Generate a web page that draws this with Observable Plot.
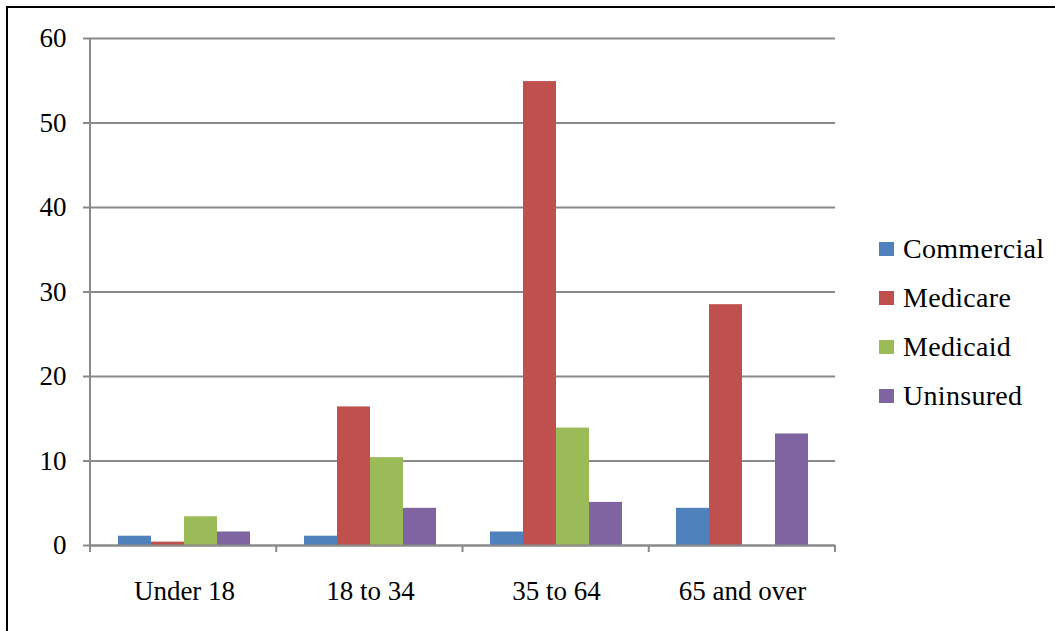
<!DOCTYPE html>
<html>
<head>
<meta charset="utf-8">
<script src="https://cdn.jsdelivr.net/npm/d3@7"></script>
<script src="https://cdn.jsdelivr.net/npm/@observablehq/plot@0.6"></script>
<style>
  html, body { margin: 0; padding: 0; background: #fff; }
  #wrap { position: relative; width: 1055px; height: 631px; overflow: hidden; font-family: "Liberation Serif", "Times New Roman", serif; }
  #border { position: absolute; left: 6px; top: 6px; width: 1200px; height: 800px; border: 2px solid #000; box-sizing: border-box; }
  #legend { position: absolute; left: 879px; top: 224px; }
  .row { display: flex; align-items: center; height: 49px; }
  .sw { width: 15px; height: 14px; margin-right: 9px; }
  .lbl { font-size: 28px; line-height: 1; color: #000; letter-spacing: 0.3px; }
  svg { position: absolute; left: 0; top: 0; }
</style>
</head>
<body>
<div id="wrap"><div id="border"></div><div id="legend"></div></div>
<script>
const categories = ["Under 18", "18 to 34", "35 to 64", "65 and over"];
const series = ["Commercial", "Medicare", "Medicaid", "Uninsured"];
const commercial = [1.1, 1.1, 1.6, 4.4];
const medicare   = [0.4, 16.4, 54.9, 28.5];
const medicaid   = [3.4, 10.4, 13.9, 0];
const uninsured  = [1.6, 4.4, 5.1, 13.2];
const yTicks = [0, 10, 20, 30, 40, 50, 60];
const colors = ["#4F81BD", "#C0504D", "#9BBB59", "#8064A2"];

const valuesBySeries = [commercial, medicare, medicaid, uninsured];
const data = [];
categories.forEach((c, i) => {
  series.forEach((s, j) => data.push({category: c, series: s, value: valuesBySeries[j][i]}));
});

const grid = "#8a8a8a";
const chart = Plot.plot({
  width: 1055,
  height: 631,
  marginLeft: 90,
  marginRight: 220,
  marginTop: 38,
  marginBottom: 86,
  style: {fontFamily: "'Liberation Serif', 'Times New Roman', serif", background: "transparent", overflow: "visible"},
  fx: {domain: categories, padding: 0, label: null},
  x: {domain: series, paddingInner: 0, paddingOuter: 0.74, axis: null},
  y: {domain: [0, 60], label: null},
  color: {domain: series, range: colors},
  marks: [
    Plot.gridY(yTicks, {stroke: grid, strokeOpacity: 1, strokeWidth: 2}),
    Plot.barY(data, {fx: "category", x: "series", y: "value", fill: "series"}),
    Plot.ruleY([0], {stroke: grid, strokeWidth: 2}),
    Plot.axisY(yTicks, {tickSize: 8, stroke: grid, strokeWidth: 2, tickPadding: 17, fontSize: 27, fill: "#000", label: null}),
    Plot.axisFx({anchor: "bottom", tickSize: 0, tickPadding: 35, fontSize: 27, fill: "#000", label: null})
  ]
});

document.getElementById("wrap").appendChild(chart);

// y-axis domain line and category boundary ticks, from Plot's own scales
const ys = chart.scale("y");
const fxs = chart.scale("fx");
const y0 = ys.apply(0), y60 = ys.apply(60);
const band = d3.scaleBand().domain(fxs.domain).range(fxs.range).paddingInner(fxs.paddingInner || 0).paddingOuter(fxs.paddingOuter || 0);
const svg = d3.select(chart);
const g = svg.append("g").attr("stroke", grid).attr("stroke-width", 2);
const left = band(categories[0]);
g.append("line").attr("x1", left).attr("x2", left).attr("y1", y60).attr("y2", y0 + 7);
const bounds = categories.map(c => band(c)).concat([band(categories[categories.length - 1]) + band.bandwidth()]);
bounds.forEach(b => g.append("line").attr("x1", b).attr("x2", b).attr("y1", y0).attr("y2", y0 + 7));

// legend
const legend = d3.select("#legend");
series.forEach((s, i) => {
  const r = legend.append("div").attr("class", "row");
  r.append("div").attr("class", "sw").style("background", colors[i]);
  r.append("div").attr("class", "lbl").text(s);
});
</script>
</body>
</html>
